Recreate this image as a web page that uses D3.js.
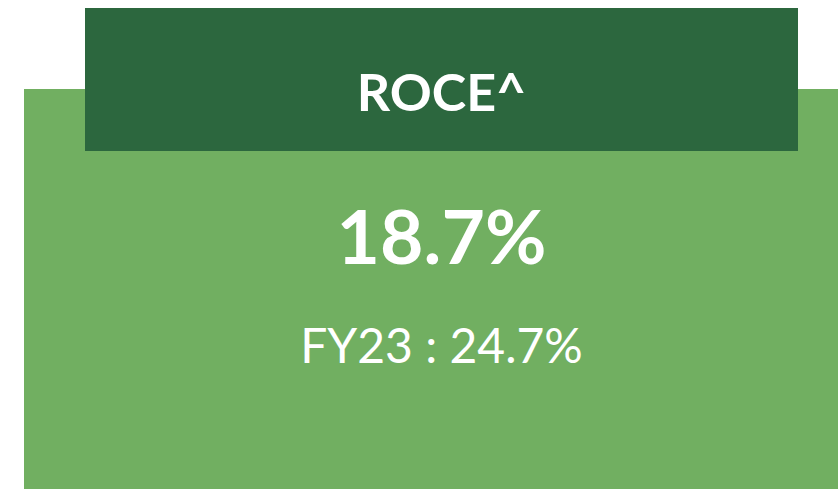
<!DOCTYPE html>
<html>
<head>
  <meta charset="UTF-8" />
  <title>ROCE</title>
  <script src="https://cdn.jsdelivr.net/npm/d3@7"></script>
  <style>
    html, body { margin: 0; padding: 0; background: #fff; }
    svg { display: block; }
  </style>
</head>
<body>
  <svg width="838" height="489"></svg>
  <script>
    // data
    var title = ["ROCE^"];
    var current = [18.7];
    var previousLabel = ["FY23"];
    var previous = [24.7];

    var svg = d3.select("svg");
    var width = +svg.attr("width");
    var height = +svg.attr("height");
    var fmt = d3.format(".1f");

    // card background
    svg.append("rect")
      .attr("x", 24)
      .attr("y", 89)
      .attr("width", width - 24)
      .attr("height", height - 89)
      .attr("fill", "#71af61");

    // header box
    svg.append("rect")
      .attr("x", 85)
      .attr("y", 8)
      .attr("width", 713)
      .attr("height", 143)
      .attr("fill", "#2c673e");

    var cx = (85 + 798) / 2;

    svg.selectAll("text.title")
      .data(title)
      .enter()
      .append("text")
      .attr("class", "title")
      .attr("x", cx)
      .attr("y", 111)
      .attr("text-anchor", "middle")
      .attr("font-family", "Lato, sans-serif")
      .attr("font-weight", "bold")
      .attr("font-size", 52)
      .attr("fill", "#fff")
      .text(function (d) { return d; });

    svg.selectAll("text.value")
      .data(current)
      .enter()
      .append("text")
      .attr("class", "value")
      .attr("x", cx)
      .attr("y", 264)
      .attr("text-anchor", "middle")
      .attr("font-family", "Lato, sans-serif")
      .attr("font-weight", "bold")
      .attr("font-size", 75)
      .attr("fill", "#fff")
      .text(function (d) { return fmt(d) + "%"; });

    svg.selectAll("text.prev")
      .data(previous)
      .enter()
      .append("text")
      .attr("class", "prev")
      .attr("x", cx)
      .attr("y", 363)
      .attr("text-anchor", "middle")
      .attr("font-family", "Lato, sans-serif")
      .attr("font-size", 48)
      .attr("fill", "#fff")
      .text(function (d, i) { return previousLabel[i] + " : " + fmt(d) + "%"; });
  </script>
</body>
</html>
